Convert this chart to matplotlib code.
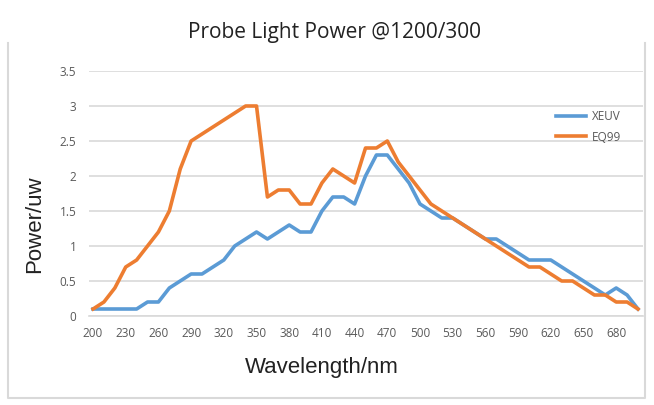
import numpy as np
import matplotlib
matplotlib.use('Agg')
import matplotlib.pyplot as plt
from matplotlib.lines import Line2D

# wavelength (nm), one point every 10 nm
wavelength = list(range(200, 701, 10))

xeuv = [0.1, 0.1, 0.1, 0.1, 0.1, 0.2, 0.2, 0.4, 0.5, 0.6,
        0.6, 0.7, 0.8, 1.0, 1.1, 1.2, 1.1, 1.2, 1.3, 1.2,
        1.2, 1.5, 1.7, 1.7, 1.6, 2.0, 2.3, 2.3, 2.1, 1.9,
        1.6, 1.5, 1.4, 1.4, 1.3, 1.2, 1.1, 1.1, 1.0, 0.9,
        0.8, 0.8, 0.8, 0.7, 0.6, 0.5, 0.4, 0.3, 0.4, 0.3,
        0.1]

eq99 = [0.1, 0.2, 0.4, 0.7, 0.8, 1.0, 1.2, 1.5, 2.1, 2.5,
        2.6, 2.7, 2.8, 2.9, 3.0, 3.0, 1.7, 1.8, 1.8, 1.6,
        1.6, 1.9, 2.1, 2.0, 1.9, 2.4, 2.4, 2.5, 2.2, 2.0,
        1.8, 1.6, 1.5, 1.4, 1.3, 1.2, 1.1, 1.0, 0.9, 0.8,
        0.7, 0.7, 0.6, 0.5, 0.5, 0.4, 0.3, 0.3, 0.2, 0.2,
        0.1]

x_ticks = list(range(200, 681, 30))
y_ticks = [0, 0.5, 1, 1.5, 2, 2.5, 3, 3.5]
y_labels = ['0', '0.5', '1', '1.5', '2', '2.5', '3', '3.5']

W, H = 654, 405
fig = plt.figure(figsize=(W / 100, H / 100), dpi=100)

# light gray chart frame (no top edge visible)
frame_col = '#d9d9d9'
fx0, fx1, fy0, fy1 = 8 / W, 645 / W, 1 - 398 / H, 1 - 43 / H
fig.add_artist(Line2D([fx0, fx0, fx1, fx1], [fy1, fy0, fy0, fy1],
                      color=frame_col, lw=1.5, transform=fig.transFigure))

ax = fig.add_axes([89 / W, 1 - 316 / H, (643 - 89) / W, (316 - 71) / H])
ax.plot(wavelength, xeuv, color='#5B9BD5', lw=2.6, label='XEUV',
        solid_joinstyle='round', zorder=3)
ax.plot(wavelength, eq99, color='#ED7D31', lw=2.6, label='EQ99',
        solid_joinstyle='round', zorder=4)

ax.set_xlim(196.3, 704.6)
ax.set_ylim(0, 3.5)
ax.set_yticks(y_ticks)
ax.set_yticklabels(y_labels)
ax.set_xticks(x_ticks)
ax.grid(True, axis='y', color='#d9d9d9', lw=1.2)
ax.set_axisbelow(True)
for s in ['top', 'right', 'left']:
    ax.spines[s].set_visible(False)
ax.spines['bottom'].set_color('#d9d9d9')
ax.spines['bottom'].set_linewidth(1.2)
ax.tick_params(length=0, labelsize=8.5, colors='#595959', pad=8)
ax.tick_params(axis='y', pad=9)
for t in ax.get_xticklabels() + ax.get_yticklabels():
    t.set_fontfamily('Open Sans')

fig.text(335 / W, 1 - 38 / H, 'Probe Light Power @1200/300', ha='center',
         va='baseline', fontsize=15, color='#222222', family='Open Sans')
fig.text(322 / W, 1 - 373 / H, 'Wavelength/nm', ha='center', va='baseline',
         fontsize=16, color='#222222', family='Liberation Sans')
fig.text(35 / W, 1 - 224 / H, 'Power/uw', ha='center', va='center',
         rotation=90, fontsize=16, color='#222222', family='Liberation Sans')

leg = ax.legend(loc='center left', bbox_to_anchor=(545 / W, 1 - 127 / H),
                bbox_transform=fig.transFigure, frameon=False,
                handlelength=2.6, handletextpad=0.5, labelspacing=0.6,
                prop={'family': 'Open Sans', 'size': 8.5})
for t in leg.get_texts():
    t.set_color('#595959')

fig.savefig('out.png', dpi=100)
